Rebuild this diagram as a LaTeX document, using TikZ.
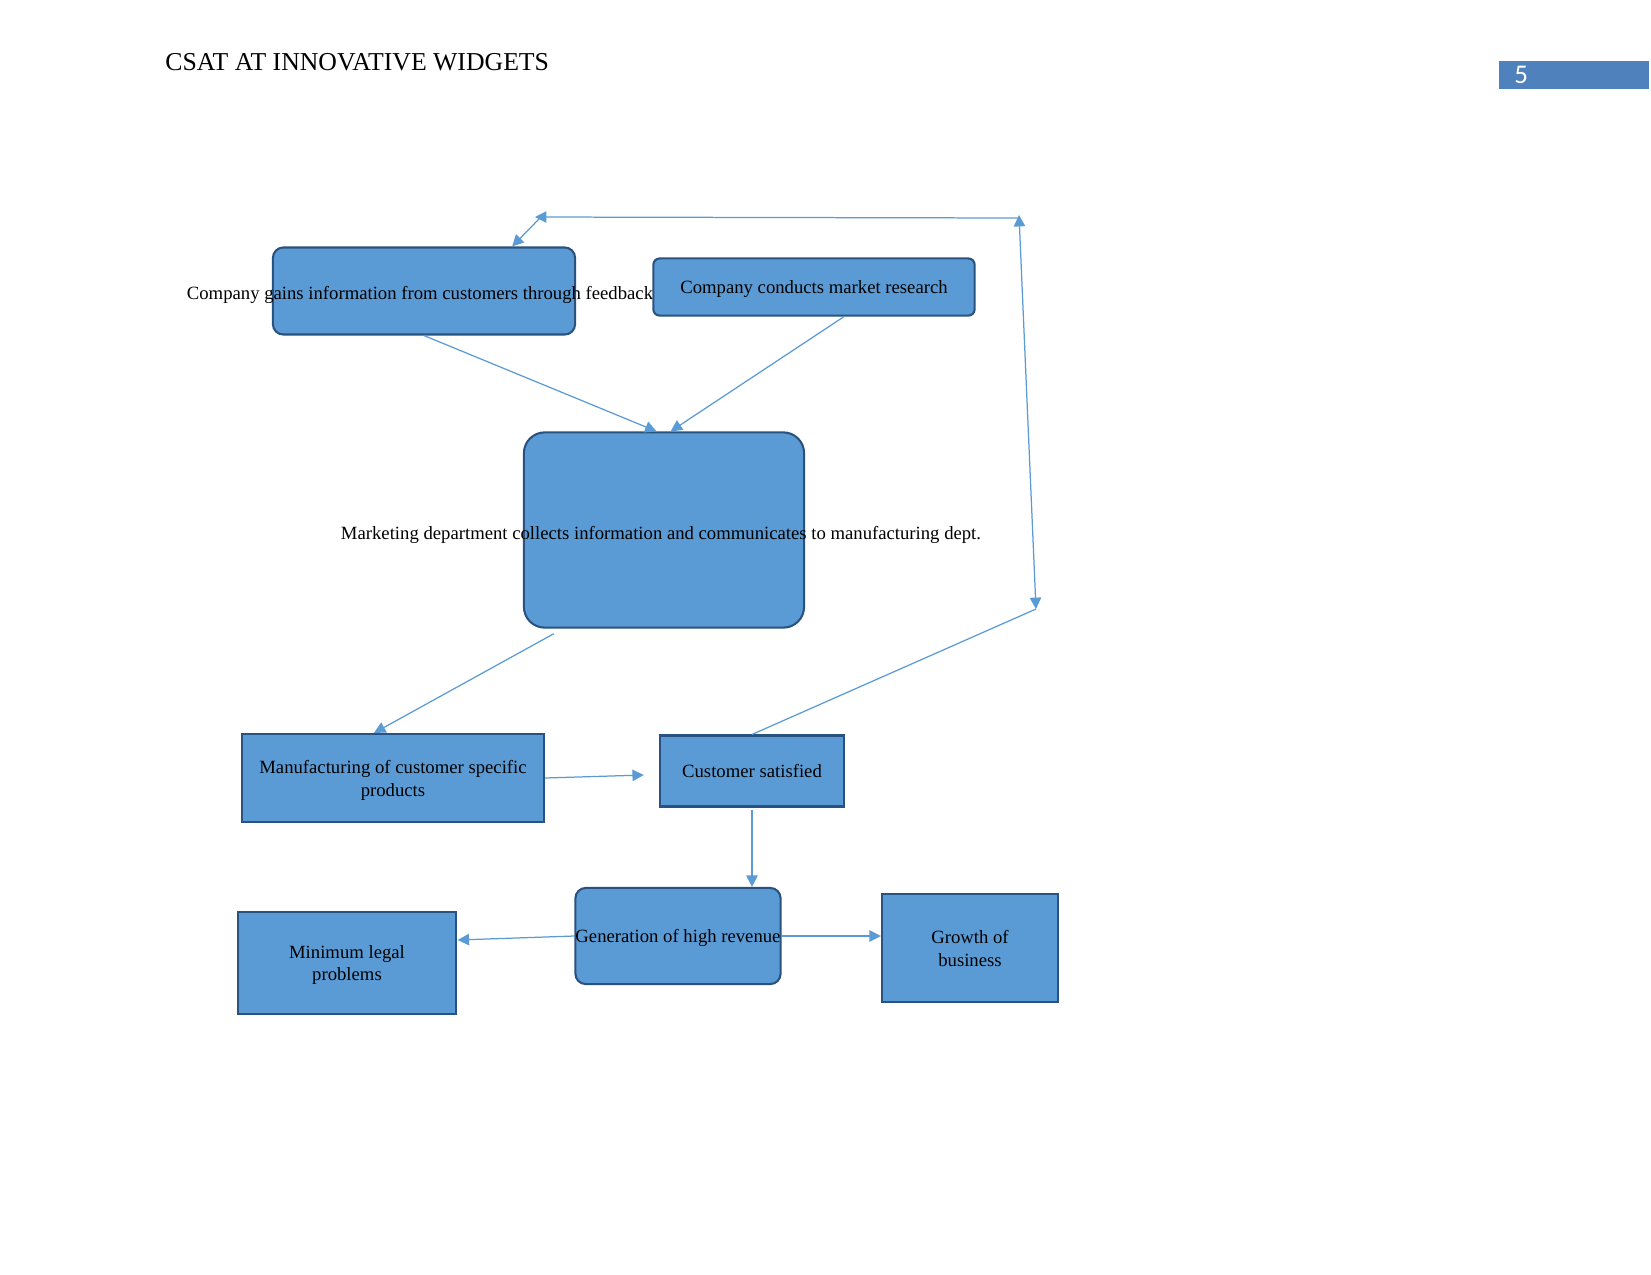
\documentclass[tikz,border=0pt]{standalone}
\usepackage{fontspec}
\setmainfont{Liberation Serif}
\newfontfamily\numfont{Carlito}
\usetikzlibrary{arrows.meta, positioning, calc}
\definecolor{boxblue}{RGB}{91,155,213}
\definecolor{edgeblue}{RGB}{42,82,128}
\definecolor{pageblue}{RGB}{79,129,189}

\begin{document}
\begin{tikzpicture}[
  x=0.016923cm, y=-0.016923cm,
  every node/.style={font=\fontsize{9}{11}\selectfont, inner sep=0pt},
  box/.style={draw=edgeblue, line width=1pt, fill=boxblue, align=center, text depth=0pt},
  rbox/.style={box, rounded corners=5pt},
  arr/.style={-{Triangle[length=5.5pt, width=5.5pt]}, draw=boxblue, line width=0.6pt},
  dbl/.style={arr, {Triangle[length=5.5pt, width=5.5pt]}-{Triangle[length=5.5pt, width=5.5pt]}},
]
\useasboundingbox (0,0) rectangle (1651,1275);

% --- header
\node[anchor=base west, font=\fontsize{12.4}{14}\selectfont] (title) at (165,70) {CSAT AT INNOVATIVE WIDGETS};
\node[fill=pageblue, minimum width=72.3pt, minimum height=13.5pt] (pgbox) at (1574,75) {};
\node[anchor=west, text=white, font=\numfont\fontsize{13}{15}\selectfont] (pgnum) at (1514,75) {5};

% --- row 1: information sources
\node[rbox, minimum width=145.5pt, minimum height=41.9pt] (fb) at (424,291) {};
\node (fbtxt) at (420,295) {Company gains information from customers through feedback};
\node[rbox, rounded corners=3pt, minimum width=154.7pt, minimum height=27.5pt] (res) at (814,287) {Company conducts market research};

% --- row 2: marketing
\node[rbox, rounded corners=10pt, minimum width=134.9pt, minimum height=94pt] (mkt) at (664,530) {};
\node (mkttxt) at (661,535) {Marketing department collects information and communicates to manufacturing dept.};
\draw[arr] (fb.south) -- ([xshift=-3.6pt]mkt.north);
\draw[arr] ($(res.south)+(30,0)$) -- ([xshift=3.2pt]mkt.north);

% --- row 3: manufacturing + satisfaction
\node[box, minimum width=145.5pt, minimum height=42.4pt] (mfg) at (393,778) {Manufacturing of customer specific\\products};
\node[box, minimum width=88.7pt, minimum height=34.2pt] (sat) at (752,771) {Customer satisfied};
\draw[arr] ($(mkt.south west)+(31,5)$) -- ($(mfg.north)+(-19,0)$);
\draw[arr] (mfg.east) -- ($(sat.west)+(-15,4)$);

% --- feedback loop
\coordinate (turn) at (1036,609);
\coordinate (corner) at (1019,215);
\coordinate (back) at (535,217);
\draw[draw=boxblue, line width=0.6pt] (sat.north) -- (turn);
\draw[dbl] (turn) -- (corner);
\draw[arr] ($(corner)+(0,3)$) -- (back);
\draw[arr] ($(back)+(5,1)$) -- ($(fb.north east)+(-64,0)$);

% --- row 4: results
\node[rbox, minimum width=98.8pt, minimum height=46.3pt] (gen) at (678,936) {Generation of high revenue};
\node[box, minimum width=104.6pt, minimum height=49.1pt] (legal) at (347,963) {Minimum legal\\problems};
\node[box, minimum width=84.8pt, minimum height=51.6pt] (grow) at (970,948) {Growth of\\business};
\draw[arr] ([yshift=-1pt]sat.south) -- (sat.south |- gen.north);
\draw[arr] (gen.west) -- ($(legal.east)+(1,-23)$);
\draw[arr] (gen.east) -- (gen.east -| grow.west);
\end{tikzpicture}
\end{document}
